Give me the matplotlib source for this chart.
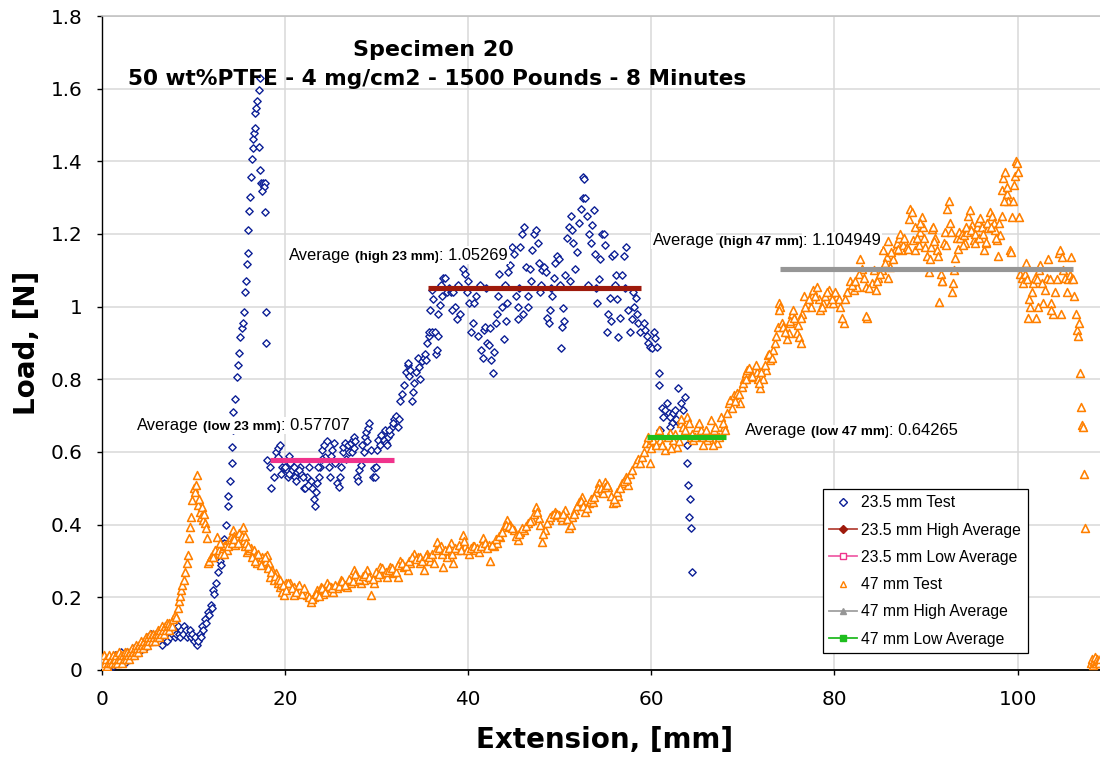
import numpy as np
import matplotlib
matplotlib.use("Agg")
import matplotlib.pyplot as plt
from matplotlib.lines import Line2D

# ---------------- 23.5 mm test: (extension mm, load N) ----------------
blue_toe = [
    (0.0, 0.01), (0.1, 0.02), (0.2, 0.00), (0.3, 0.01), (0.4, 0.02), (0.5, 0.01), (0.6, 0.03),
    (0.7, 0.00), (0.8, 0.02), (0.9, 0.01), (1.0, 0.03), (1.1, 0.02), (1.2, 0.01), (1.3, 0.03),
    (1.4, 0.02), (1.5, 0.04), (1.6, 0.03), (1.7, 0.02), (1.8, 0.04), (2.0, 0.03), (2.1, 0.05),
    (2.2, 0.03), (2.4, 0.04), (2.5, 0.02), (2.6, 0.04), (2.8, 0.05), (2.9, 0.03), (3.0, 0.04),
    (3.2, 0.05), (3.3, 0.04), (3.5, 0.06), (3.6, 0.04), (3.8, 0.05), (3.9, 0.06), (4.1, 0.05),
    (4.2, 0.07), (4.4, 0.06), (4.5, 0.07), (4.7, 0.06), (4.8, 0.08), (5.0, 0.07), (5.1, 0.09),
    (5.3, 0.08), (5.4, 0.10), (5.6, 0.09), (5.7, 0.08), (5.9, 0.10), (6.0, 0.09), (6.2, 0.10),
    (6.3, 0.08), (6.5, 0.09), (6.6, 0.07), (6.8, 0.09), (6.9, 0.10), (7.1, 0.08), (7.2, 0.10),
    (7.4, 0.11), (7.5, 0.09), (7.7, 0.10), (7.8, 0.11), (8.0, 0.09), (8.1, 0.10), (8.3, 0.12),
    (8.4, 0.10), (8.6, 0.09), (8.7, 0.11), (8.9, 0.10), (9.0, 0.12), (9.2, 0.11), (9.3, 0.09),
    (9.5, 0.10), (9.6, 0.11), (9.8, 0.09), (9.9, 0.10), (10.1, 0.08), (10.2, 0.09), (10.4, 0.07),
    (10.5, 0.08), (10.7, 0.10), (10.8, 0.09), (11.0, 0.12), (11.1, 0.11), (11.3, 0.14), (11.4, 0.13),
    (11.6, 0.16), (11.7, 0.15), (11.9, 0.18), (12.0, 0.17), (12.2, 0.22), (12.3, 0.21), (12.5, 0.24),
    (12.7, 0.27), (12.9, 0.30), (13.0, 0.29), (13.3, 0.36), (13.4, 0.35),
]
blue_spike = [
    (13.6, 0.40), (13.8, 0.45), (13.8, 0.48), (14.0, 0.52), (14.2, 0.57), (14.2, 0.615),
    (14.3, 0.66), (14.3, 0.71), (14.6, 0.745), (14.75, 0.807), (14.9, 0.84), (14.95, 0.873),
    (15.1, 0.917), (15.3, 0.94), (15.4, 0.954), (15.55, 0.986), (15.66, 1.041), (15.77, 1.07),
    (15.87, 1.117), (15.95, 1.147), (16.02, 1.211), (16.13, 1.262), (16.24, 1.301), (16.28, 1.356),
    (16.39, 1.407), (16.5, 1.436), (16.57, 1.462), (16.64, 1.477), (16.71, 1.492), (16.78, 1.532),
    (16.86, 1.546), (16.97, 1.567), (17.15, 1.596), (17.29, 1.628), (17.2, 1.44), (17.3, 1.376),
    (17.4, 1.341), (17.6, 1.341), (17.8, 1.341), (17.7, 1.33), (17.5, 1.317), (17.8, 1.26),
    (17.9, 0.986), (17.95, 0.899),
]
blue_low = [
    (18.1, 0.578), (18.5, 0.50), (18.4, 0.56), (18.8, 0.53), (19.0, 0.60), (19.2, 0.61),
    (19.5, 0.62), (19.3, 0.585), (19.7, 0.56), (19.9, 0.555), (20.2, 0.55), (20.4, 0.59),
    (20.6, 0.57), (20.8, 0.55), (21.1, 0.53), (21.3, 0.545), (21.6, 0.56), (21.8, 0.54),
    (22.1, 0.50), (22.2, 0.50), (22.4, 0.53), (22.6, 0.56), (22.8, 0.52), (23.0, 0.50),
    (23.2, 0.47), (23.3, 0.45), (23.4, 0.49), (23.5, 0.515), (23.7, 0.53), (23.8, 0.56),
    (24.1, 0.605), (24.3, 0.62), (24.4, 0.585), (24.8, 0.56), (24.9, 0.53), (25.2, 0.605),
    (25.4, 0.625), (25.7, 0.515), (25.9, 0.505), (26.1, 0.56), (26.3, 0.60), (26.4, 0.615),
    (26.6, 0.625), (26.9, 0.62), (27.0, 0.60), (27.2, 0.625), (27.4, 0.633), (27.5, 0.64),
    (27.7, 0.63), (27.9, 0.53), (28.1, 0.55), (28.3, 0.565), (28.4, 0.62), (28.7, 0.64),
    (28.9, 0.655), (29.1, 0.665), (29.4, 0.605), (29.6, 0.53), (29.7, 0.555), (29.9, 0.56),
    (30.1, 0.605), (30.2, 0.633), (30.5, 0.647), (30.8, 0.633), (31.0, 0.625), (31.3, 0.64),
    (31.5, 0.65), (31.7, 0.67), (31.9, 0.69), (32.1, 0.70), (32.3, 0.67), (32.5, 0.69),
    (19.6, 0.54), (20.0, 0.56), (20.3, 0.53), (20.5, 0.54), (21.0, 0.56), (21.2, 0.52),
    (21.5, 0.55), (22.0, 0.53), (22.5, 0.51), (23.6, 0.56), (24.0, 0.58), (24.6, 0.63),
    (25.0, 0.59), (25.5, 0.57), (26.0, 0.53), (26.7, 0.58), (27.3, 0.60), (27.6, 0.61),
    (28.0, 0.52), (28.6, 0.60), (29.0, 0.63), (29.2, 0.68), (29.8, 0.53), (30.4, 0.62),
    (30.9, 0.66), (31.1, 0.62), (31.4, 0.66), (31.8, 0.68),
]
blue_rise = [
    (32.6, 0.74), (32.8, 0.76), (33.0, 0.785), (33.2, 0.82), (33.4, 0.84), (33.5, 0.81),
    (33.4, 0.845), (33.7, 0.825), (33.9, 0.74), (34.0, 0.765), (34.1, 0.79), (34.3, 0.82),
    (34.5, 0.86), (34.6, 0.835), (34.8, 0.80), (35.0, 0.85), (35.2, 0.86), (35.3, 0.87),
    (35.4, 0.853), (35.5, 0.90), (35.7, 0.92), (35.7, 0.93), (35.9, 0.99), (36.1, 0.93),
    (36.1, 1.045), (36.2, 1.02), (36.4, 0.93), (36.5, 0.87), (36.6, 0.88), (36.7, 0.92),
]
blue_high = [
    (36.7, 0.98), (36.9, 1.005), (37.2, 1.03), (37.3, 1.08), (37.5, 1.078), (37.7, 1.04),
    (38.1, 1.04), (38.4, 1.04), (38.6, 1.00), (38.8, 0.965), (39.1, 0.98), (39.4, 1.105),
    (39.5, 1.13), (39.7, 1.09), (39.9, 1.04), (40.1, 1.01), (40.3, 0.93), (40.5, 0.955),
    (40.6, 1.01), (40.9, 1.03), (41.1, 0.92), (41.4, 0.88), (41.6, 0.86), (41.7, 0.935),
    (41.9, 0.945), (42.1, 0.90), (42.3, 0.895), (42.5, 0.853), (42.7, 0.817), (42.8, 0.875),
    (43.0, 0.955), (43.2, 0.98), (43.3, 1.03), (43.4, 1.09), (43.7, 1.00), (43.9, 0.91),
    (44.1, 0.96), (44.3, 1.01), (44.4, 1.095), (44.6, 1.115), (44.8, 1.165), (45.0, 1.145),
    (45.2, 1.03), (45.4, 0.965), (45.5, 1.00), (45.7, 1.165), (45.9, 1.20), (46.1, 1.22),
    (46.3, 1.11), (46.5, 1.00), (46.6, 1.03), (46.8, 1.105), (47.0, 1.155), (47.2, 1.20),
    (47.4, 1.21), (47.6, 1.175), (47.7, 1.12), (47.9, 1.04), (48.1, 1.10), (48.3, 1.11),
    (48.5, 1.095), (48.6, 0.97), (48.8, 0.955), (49.0, 0.99), (49.2, 1.03), (49.4, 1.08),
    (49.5, 1.12), (49.7, 1.14), (49.9, 1.13), (50.1, 0.885), (50.3, 0.945), (50.4, 0.995),
    (50.6, 1.087), (50.8, 1.19), (51.0, 1.22), (51.2, 1.25), (51.4, 1.21), (51.5, 1.175),
    (51.7, 1.105), (51.9, 1.15), (52.1, 1.23), (52.3, 1.27), (52.5, 1.30), (52.6, 1.357),
    (52.7, 1.35), (52.8, 1.30), (53.0, 1.25), (53.2, 1.20), (53.4, 1.175), (53.5, 1.225),
    (53.7, 1.265), (53.9, 1.145), (54.1, 1.01), (54.3, 1.075), (54.4, 1.13), (54.6, 1.20),
    (54.8, 1.20), (55.0, 1.17), (55.2, 0.93), (55.3, 0.98), (55.5, 1.025), (55.7, 1.14),
    (55.9, 1.145), (56.1, 1.087), (56.3, 1.02), (56.4, 0.917), (56.6, 0.97), (56.8, 1.087),
    (57.0, 1.14), (57.3, 1.165), (57.5, 0.99), (57.7, 0.93), (57.9, 0.965), (58.1, 1.00),
    (58.3, 1.025), (58.5, 0.98), (58.6, 0.955), (58.8, 0.93), (59.2, 0.955), (59.3, 0.935),
    (59.5, 0.92), (59.7, 0.90), (59.9, 0.89), (60.1, 0.885), (60.3, 0.93), (60.4, 0.915),
    (60.6, 0.89), (37.0, 1.06), (37.9, 1.05), (38.9, 1.06), (40.0, 1.07), (41.3, 1.06),
    (42.0, 1.05), (44.0, 1.06), (45.6, 1.05), (46.9, 1.07), (48.0, 1.06), (49.1, 1.05),
    (50.0, 1.06), (51.1, 1.07), (53.1, 1.06), (54.0, 1.05), (56.0, 1.06), (57.1, 1.05),
    (58.0, 1.04), (38.3, 0.99), (42.4, 0.94), (46.0, 0.98), (50.5, 0.96), (55.6, 0.96),
]
blue_tail = [
    (60.8, 0.817), (60.9, 0.785), (61.2, 0.72), (61.3, 0.697), (61.5, 0.715), (61.7, 0.735),
    (61.9, 0.707), (62.1, 0.697), (62.3, 0.68), (62.4, 0.707), (62.6, 0.715), (62.9, 0.775),
    (63.2, 0.735), (63.5, 0.715), (63.7, 0.75), (63.9, 0.62), (61.0, 0.66), (62.0, 0.67),
    (63.0, 0.68), (62.7, 0.69), (63.9, 0.57), (64.0, 0.51), (64.2, 0.47), (64.1, 0.42),
    (64.3, 0.39), (64.4, 0.27),
]

# ---------------- 47 mm test: (extension mm, load N) ----------------
orange_toe = [
    (0.0, 0.02), (0.1, 0.03), (0.2, 0.01), (0.3, 0.04), (0.4, 0.02), (0.5, 0.03), (0.6, 0.01),
    (0.7, 0.02), (0.8, 0.04), (0.9, 0.02), (1.0, 0.03), (1.1, 0.02), (1.2, 0.04), (1.3, 0.03),
    (1.4, 0.02), (1.5, 0.03), (1.6, 0.04), (1.7, 0.02), (1.8, 0.03), (1.9, 0.05), (2.0, 0.03),
    (2.1, 0.04), (2.2, 0.02), (2.3, 0.04), (2.4, 0.03), (2.5, 0.05), (2.6, 0.04), (2.7, 0.03),
    (2.8, 0.05), (2.9, 0.04), (3.0, 0.03), (3.1, 0.05), (3.2, 0.04), (3.3, 0.06), (3.4, 0.05),
    (3.5, 0.04), (3.6, 0.06), (3.7, 0.05), (3.8, 0.07), (3.9, 0.06), (4.0, 0.05), (4.1, 0.07),
    (4.2, 0.06), (4.3, 0.08), (4.4, 0.07), (4.5, 0.06), (4.6, 0.08), (4.7, 0.07), (4.8, 0.09),
    (4.9, 0.08), (5.0, 0.07), (5.1, 0.09), (5.2, 0.08), (5.3, 0.10), (5.4, 0.09), (5.5, 0.08),
    (5.6, 0.10), (5.7, 0.09), (5.8, 0.08), (5.9, 0.10), (6.0, 0.09), (6.1, 0.11), (6.2, 0.10),
    (6.3, 0.09), (6.4, 0.11), (6.5, 0.10), (6.6, 0.12), (6.7, 0.11), (6.8, 0.10), (6.9, 0.12),
    (7.0, 0.11), (7.1, 0.13), (7.2, 0.12), (7.3, 0.11), (7.4, 0.13), (7.5, 0.12),
]
orange_peak = [
    (7.7, 0.12), (7.8, 0.14), (8.0, 0.15), (8.1, 0.146), (8.3, 0.17), (8.4, 0.19), (8.6, 0.205),
    (8.7, 0.22), (8.8, 0.234), (8.95, 0.248), (9.1, 0.27), (9.3, 0.295), (9.4, 0.317),
    (9.5, 0.363), (9.6, 0.394), (9.8, 0.42), (9.9, 0.468), (10.1, 0.50), (10.2, 0.49),
    (10.3, 0.51), (10.4, 0.537), (10.5, 0.454), (10.6, 0.47), (10.7, 0.435), (10.8, 0.42),
    (11.0, 0.449), (11.1, 0.413), (11.2, 0.43), (11.3, 0.404), (11.4, 0.39), (11.5, 0.363),
    (11.6, 0.295),
]
orange_hump = [
    (11.7, 0.30), (11.9, 0.31), (12.1, 0.32), (12.2, 0.31), (12.4, 0.33), (12.6, 0.366),
    (12.8, 0.33), (13.0, 0.32), (13.2, 0.335), (13.3, 0.34), (13.5, 0.345), (13.7, 0.33),
    (13.9, 0.358), (14.1, 0.366), (14.3, 0.385), (14.4, 0.37), (14.6, 0.345), (14.8, 0.366),
    (15.0, 0.377), (15.2, 0.363), (15.4, 0.394), (15.5, 0.358), (15.7, 0.34), (15.9, 0.325),
    (16.1, 0.33), (16.3, 0.335), (16.5, 0.32), (16.6, 0.33), (16.8, 0.317), (17.0, 0.295),
    (17.2, 0.308), (17.3, 0.30), (17.5, 0.31), (17.7, 0.295), (17.9, 0.30), (18.1, 0.317),
    (18.3, 0.295), (18.4, 0.256), (18.6, 0.275), (18.8, 0.248), (19.0, 0.267), (19.2, 0.24),
    (19.5, 0.228), (19.7, 0.215), (19.9, 0.206), (20.1, 0.24), (20.3, 0.228), (20.6, 0.24),
    (21.0, 0.206), (21.4, 0.228), (12.9, 0.35), (13.4, 0.32), (13.8, 0.34), (14.2, 0.35),
    (14.5, 0.36), (14.9, 0.35), (15.3, 0.37), (15.6, 0.37), (15.8, 0.35), (16.0, 0.34),
    (16.4, 0.31), (16.7, 0.30), (17.1, 0.32), (17.4, 0.29), (17.8, 0.31), (18.2, 0.28),
    (18.5, 0.27), (18.9, 0.26), (19.3, 0.25), (19.6, 0.24),
]
orange_trough = [
    (19.5, 0.248), (20.3, 0.24), (21.0, 0.228), (21.7, 0.22), (22.4, 0.206), (22.8, 0.187),
    (23.2, 0.20), (23.5, 0.22), (23.9, 0.228), (24.2, 0.21), (24.6, 0.24), (25.0, 0.228),
    (25.3, 0.215), (25.7, 0.225), (26.1, 0.248), (26.4, 0.234), (26.8, 0.228), (27.2, 0.24),
    (27.5, 0.275), (27.9, 0.256), (28.3, 0.24), (28.6, 0.248), (29.0, 0.275), (29.4, 0.206),
    (29.7, 0.24), (30.1, 0.256), (30.4, 0.284), (30.8, 0.267), (31.2, 0.256), (31.5, 0.284),
    (31.9, 0.267), (32.3, 0.256), (32.6, 0.30), (33.0, 0.284), (33.4, 0.275), (33.7, 0.295),
    (34.1, 0.32), (34.5, 0.31), (34.8, 0.295), (35.2, 0.275), (35.5, 0.32), (35.9, 0.30),
    (36.3, 0.295), (36.6, 0.353), (37.0, 0.34), (37.3, 0.284), (37.7, 0.31), (38.1, 0.35),
    (38.4, 0.295), (38.8, 0.33), (39.4, 0.372), (39.7, 0.34), (40.1, 0.32), (40.5, 0.34),
    (40.8, 0.33), (41.2, 0.325), (41.6, 0.363), (41.9, 0.34), (42.3, 0.345), (42.4, 0.30),
    (42.8, 0.34), (43.2, 0.35), (43.5, 0.366), (43.9, 0.394), (44.3, 0.413), (44.6, 0.40),
    (45.0, 0.385), (45.4, 0.358), (45.7, 0.38), (46.1, 0.385), (46.6, 0.404), (47.0, 0.413),
    (47.4, 0.449), (47.7, 0.418), (48.1, 0.353), (48.4, 0.385), (48.8, 0.413), (49.2, 0.427),
    (49.5, 0.435), (49.9, 0.427), (50.3, 0.413), (50.6, 0.44), (51.0, 0.39), (51.4, 0.42),
    (51.7, 0.44), (52.1, 0.462), (52.4, 0.476), (52.8, 0.435), (53.2, 0.46), (53.6, 0.462),
    (54.0, 0.49), (54.3, 0.515), (54.7, 0.487), (55.0, 0.517), (55.3, 0.504), (55.8, 0.46),
    (56.1, 0.462), (56.4, 0.48), (56.8, 0.515), (57.2, 0.53), (57.5, 0.51), (57.7, 0.54),
    (19.8, 0.235), (20.1, 0.22), (20.8, 0.225), (21.2, 0.215), (21.5, 0.235), (21.9, 0.21),
    (22.1, 0.225), (22.6, 0.20), (23.0, 0.195), (23.4, 0.21), (23.7, 0.205), (24.1, 0.225),
    (24.4, 0.215), (24.8, 0.23), (25.2, 0.225), (25.5, 0.235), (25.9, 0.23), (26.2, 0.245),
    (26.6, 0.235), (27.0, 0.25), (27.4, 0.245), (27.7, 0.265), (28.1, 0.25), (28.5, 0.26),
    (28.8, 0.265), (29.2, 0.255), (29.6, 0.25), (29.9, 0.27), (30.3, 0.265), (30.6, 0.28),
    (31.0, 0.27), (31.4, 0.275), (31.7, 0.28), (32.1, 0.27), (32.4, 0.29), (32.8, 0.295),
    (33.2, 0.285), (33.6, 0.30), (33.9, 0.31), (34.3, 0.305), (34.7, 0.31), (35.0, 0.30),
    (35.4, 0.315), (35.7, 0.31), (36.1, 0.32), (36.5, 0.33), (36.8, 0.335), (37.2, 0.32),
    (37.5, 0.33), (37.9, 0.335), (38.3, 0.32), (38.6, 0.335), (39.0, 0.345), (39.2, 0.33),
    (39.6, 0.355), (39.9, 0.33), (40.3, 0.335), (40.7, 0.34), (41.0, 0.335), (41.4, 0.34),
    (41.8, 0.35), (42.1, 0.335), (42.6, 0.345), (43.0, 0.36), (43.4, 0.37), (43.7, 0.38),
    (44.1, 0.40), (44.5, 0.395), (44.8, 0.39), (45.2, 0.37), (45.6, 0.375), (45.9, 0.39),
    (46.3, 0.395), (46.8, 0.41), (47.2, 0.43), (47.5, 0.435), (47.9, 0.40), (48.2, 0.375),
    (48.6, 0.405), (49.0, 0.42), (49.4, 0.43), (49.7, 0.43), (50.1, 0.42), (50.4, 0.43),
    (50.8, 0.415), (51.2, 0.40), (51.6, 0.43), (51.9, 0.45), (52.3, 0.465), (52.6, 0.45),
    (53.0, 0.445), (53.4, 0.47), (53.8, 0.475), (54.2, 0.50), (54.5, 0.50), (54.9, 0.505),
    (55.2, 0.51), (55.6, 0.48), (55.9, 0.47), (56.3, 0.49), (56.6, 0.50), (57.0, 0.52),
    (57.4, 0.525), (57.9, 0.55), (58.3, 0.57), (58.6, 0.58),
]
orange_plateau = [
    (58.8, 0.57), (59.0, 0.586), (59.4, 0.625), (59.9, 0.625), (60.2, 0.633), (59.9, 0.57),
    (61.0, 0.633), (61.5, 0.605), (62.1, 0.652), (62.4, 0.633), (62.8, 0.614), (63.2, 0.68),
    (63.5, 0.67), (63.9, 0.697), (64.3, 0.64), (64.6, 0.633), (65.0, 0.67), (65.4, 0.66),
    (65.7, 0.64), (66.1, 0.633), (66.5, 0.688), (66.8, 0.66), (67.2, 0.625), (67.6, 0.697),
    (67.9, 0.67), (68.3, 0.707), (59.2, 0.60), (59.6, 0.64), (60.0, 0.61), (60.5, 0.62),
    (60.8, 0.66), (61.2, 0.62), (61.8, 0.64), (62.2, 0.61), (62.6, 0.65), (63.0, 0.63),
    (63.3, 0.69), (63.7, 0.66), (64.1, 0.68), (64.5, 0.65), (64.8, 0.64), (65.2, 0.68),
    (65.6, 0.62), (66.0, 0.66), (66.3, 0.64), (66.7, 0.62), (67.0, 0.67), (67.4, 0.64),
    (67.8, 0.68), (68.1, 0.66),
]
orange_climb = [
    (68.5, 0.735), (68.6, 0.743), (69.0, 0.757), (69.4, 0.762), (69.7, 0.735), (69.9, 0.78),
    (70.1, 0.80), (70.3, 0.817), (70.5, 0.826), (70.8, 0.807), (71.2, 0.826), (71.6, 0.82),
    (71.7, 0.80), (71.9, 0.775), (72.2, 0.80), (72.5, 0.826), (72.7, 0.867), (73.0, 0.853),
    (73.3, 0.88), (73.5, 0.90), (73.8, 0.945), (73.9, 1.01), (74.1, 1.00), (74.3, 0.955),
    (74.4, 0.945), (74.8, 0.91), (75.0, 0.928), (75.2, 0.955), (75.4, 0.98), (75.5, 0.99),
    (75.7, 0.963), (75.9, 0.928), (76.1, 0.917), (76.3, 0.90), (76.5, 0.98), (76.7, 1.03),
    (77.0, 1.01), (77.4, 1.00), (77.6, 1.03), (77.7, 1.045), (78.1, 1.055), (78.3, 1.02),
    (78.4, 0.99), (78.8, 1.01), (79.0, 1.03), (79.4, 1.045), (79.5, 1.01), (79.9, 1.01),
    (80.3, 1.03), (80.6, 1.00), (81.0, 0.955), (81.4, 1.04), (81.7, 1.07), (82.1, 1.045),
    (82.5, 1.055), (82.8, 1.13), (83.0, 1.105), (83.4, 1.055), (83.6, 0.97), (83.5, 0.975),
    (84.1, 1.065), (84.5, 1.045), (84.8, 1.08), (85.2, 1.10),
    (68.8, 0.72), (69.2, 0.74), (69.6, 0.76), (70.0, 0.79), (70.4, 0.80), (70.7, 0.83),
    (71.0, 0.81), (71.4, 0.84), (71.8, 0.79), (72.0, 0.82), (72.4, 0.84), (72.9, 0.87),
    (73.2, 0.86), (73.6, 0.92), (74.0, 0.99), (74.6, 0.93), (75.1, 0.96), (75.6, 0.97),
    (76.0, 0.95), (76.4, 0.97), (76.8, 1.00), (77.2, 1.02), (77.9, 1.03), (78.6, 1.00),
    (79.2, 1.04), (79.7, 1.02), (80.1, 1.04), (80.5, 1.02), (80.8, 0.97), (81.2, 1.02),
    (81.9, 1.06), (82.3, 1.07), (82.7, 1.09), (83.2, 1.08), (83.8, 1.05), (84.3, 1.10),
    (84.6, 1.07), (85.0, 1.09),
]
orange_top = [
    (85.3, 1.156), (85.7, 1.137), (85.9, 1.08), (85.9, 1.18), (86.1, 1.11), (86.4, 1.13),
    (86.6, 1.156), (86.8, 1.175), (87.0, 1.19), (87.2, 1.20), (87.4, 1.156), (87.5, 1.17),
    (87.9, 1.165), (88.1, 1.24), (88.3, 1.27), (88.5, 1.26), (88.6, 1.184), (88.8, 1.156),
    (89.2, 1.17), (89.4, 1.205), (89.6, 1.247), (89.7, 1.22), (89.9, 1.165), (90.1, 1.14),
    (90.3, 1.095), (90.5, 1.165), (90.7, 1.215), (90.8, 1.22), (91.0, 1.19), (91.2, 1.156),
    (91.4, 1.013), (91.6, 1.09), (91.8, 1.07), (92.0, 1.175), (92.1, 1.205), (92.3, 1.27),
    (92.5, 1.29), (92.7, 1.205), (92.8, 1.04), (93.0, 1.065), (93.2, 1.133), (93.4, 1.19),
    (93.6, 1.205), (93.7, 1.19), (93.9, 1.20), (94.1, 1.197), (94.3, 1.175), (94.5, 1.205),
    (94.6, 1.25), (94.8, 1.265), (95.0, 1.225), (95.2, 1.184), (95.4, 1.175), (95.6, 1.22),
    (95.7, 1.233), (95.9, 1.244), (96.1, 1.22), (96.3, 1.156), (96.5, 1.175), (96.6, 1.178),
    (96.8, 1.216), (97.0, 1.26), (97.2, 1.25), (97.4, 1.23), (97.5, 1.21), (97.7, 1.184),
    (97.9, 1.14), (98.1, 1.197), (98.3, 1.25), (98.3, 1.32), (98.4, 1.353), (98.6, 1.37),
    (98.8, 1.31), (99.0, 1.29), (99.2, 1.156), (99.4, 1.247), (99.5, 1.29), (99.6, 1.335),
    (99.7, 1.36), (99.8, 1.40), (99.9, 1.395), (100.1, 1.37), (100.2, 1.247), (100.3, 1.09),
    (100.5, 1.08), (100.6, 1.065), (100.8, 1.09), (101.0, 1.075), (101.1, 0.97), (101.4, 1.00),
    (101.6, 1.04), (101.7, 1.065), (101.9, 1.08), (102.1, 1.075), (102.3, 1.10), (102.5, 1.115),
    (102.7, 1.065), (102.8, 1.01), (103.0, 1.045), (103.2, 1.08), (103.3, 1.13), (103.5, 1.075),
    (103.7, 1.01), (103.9, 0.98), (104.1, 1.04), (104.3, 1.075), (104.5, 1.147), (104.6, 1.156),
    (104.8, 1.137), (105.0, 1.10), (105.2, 1.08), (105.4, 1.04), (105.5, 1.075), (105.7, 1.087),
    (105.8, 1.137), (105.9, 1.08), (106.0, 1.075), (106.2, 1.03), (106.4, 0.98),
    (85.5, 1.12), (86.2, 1.15), (86.9, 1.16), (87.6, 1.19), (88.0, 1.16), (88.8, 1.22),
    (89.0, 1.19), (89.3, 1.23), (89.8, 1.19), (90.4, 1.13), (90.9, 1.18), (91.3, 1.14),
    (91.7, 1.07), (92.2, 1.17), (92.6, 1.23), (93.1, 1.10), (93.5, 1.16), (94.0, 1.17),
    (94.4, 1.22), (94.9, 1.21), (95.3, 1.20), (95.8, 1.19), (96.2, 1.20), (96.7, 1.23),
    (97.1, 1.22), (97.6, 1.19), (98.0, 1.23), (98.5, 1.29), (98.9, 1.33), (99.3, 1.15),
    (102.0, 0.97), (103.6, 0.99), (104.7, 0.98), (102.2, 1.00), (101.3, 1.02), (100.9, 1.12),
]
orange_drop = [
    (106.5, 0.935), (106.6, 0.92), (106.7, 0.955), (106.8, 0.817), (106.9, 0.725),
    (107.0, 0.675), (107.1, 0.67), (107.2, 0.54), (107.4, 0.39),
    (108.0, 0.02), (108.1, 0.03), (108.2, 0.015), (108.3, 0.025), (108.4, 0.02),
    (108.5, 0.035), (108.6, 0.02), (108.7, 0.03), (108.8, 0.025), (108.9, 0.02), (109.0, 0.03),
]

# ---------------- plateau averages ----------------
avg_high_235 = 1.05269
avg_low_235 = 0.57707
avg_high_47 = 1.104949
avg_low_47 = 0.64265
span_high_235 = (35.65, 58.9)
span_low_235 = (18.4, 31.9)
span_high_47 = (74.1, 106.1)
span_low_47 = (59.5, 68.2)

x_ticks = [0, 20, 40, 60, 80, 100]
y_ticks = [0, 0.2, 0.4, 0.6, 0.8, 1.0, 1.2, 1.4, 1.6, 1.8]
y_tick_labels = ["0", "0.2", "0.4", "0.6", "0.8", "1", "1.2", "1.4", "1.6", "1.8"]

title_line1 = "Specimen 20"
title_line2 = "50 wt%PTFE - 4 mg/cm2 - 1500 Pounds - 8 Minutes"

BLUE = "#0C1F96"
ORANGE = "#FF8000"
DARKRED = "#9E1A0C"
PINK = "#F0338C"
GRAY = "#969696"
GREEN = "#1EBE1E"


def stack(*segments):
    arr = np.array([p for seg in segments for p in seg], dtype=float)
    return arr[:, 0], arr[:, 1]


bx, by = stack(blue_toe, blue_spike, blue_low, blue_rise, blue_high, blue_tail)
ox, oy = stack(orange_toe, orange_peak, orange_hump, orange_trough,
               orange_plateau, orange_climb, orange_top, orange_drop)

fig = plt.figure(figsize=(11, 7.63), dpi=100)
ax = fig.add_axes([0.09245, 0.12189, 0.90755, 0.85714])

ax.scatter(bx, by, marker="D", s=14, facecolors="white", edgecolors=BLUE,
           linewidths=1.0, zorder=3)
ax.scatter(ox, oy, marker="^", s=32, facecolors="white", edgecolors=ORANGE,
           linewidths=1.15, zorder=4)

for (x0, x1), val, col in [(span_high_235, avg_high_235, DARKRED),
                           (span_low_235, avg_low_235, PINK),
                           (span_high_47, avg_high_47, GRAY),
                           (span_low_47, avg_low_47, GREEN)]:
    ax.plot([x0, x1], [val, val], color=col, lw=3.7, solid_capstyle="butt", zorder=6)

ax.set_xlim(0, 109)
ax.set_ylim(0, 1.8)
ax.set_xticks(x_ticks)
ax.set_yticks(y_ticks)
ax.set_yticklabels(y_tick_labels)
ax.grid(True, color="#D9D9D9", lw=1.1)
ax.set_axisbelow(True)
ax.tick_params(direction="out", length=3.6, width=1, labelsize=14.4, colors="black")
ax.tick_params(axis="x", pad=11)
ax.tick_params(axis="y", pad=10)
ax.spines["right"].set_visible(False)
ax.spines["top"].set_color("#BFBFBF")
ax.spines["top"].set_linewidth(1.1)
ax.spines["left"].set_linewidth(1.0)
ax.spines["bottom"].set_linewidth(1.3)

ax.set_xlabel("Extension, [mm]", fontsize=20, fontweight="bold")
ax.set_ylabel("Load, [N]", fontsize=20, fontweight="bold")
ax.xaxis.set_label_coords(0.504, -0.0856)
ax.yaxis.set_label_coords(-0.061, 0.5)

fig.text(0.3936, 0.927, title_line1, ha="center", va="baseline",
         fontsize=16, fontweight="bold")
fig.text(0.3977, 0.8886, title_line2, ha="center", va="baseline",
         fontsize=15.6, fontweight="bold")


def average_label(x, y, tag, value):
    box = dict(fc="white", ec="none", pad=1.0)
    first = ax.text(x, y, "Average", fontsize=11.9, family="Liberation Sans",
                    va="baseline", ha="left", bbox=box, zorder=7)
    mid = ax.annotate(tag, xy=(1, 0), xycoords=first, xytext=(3.3, 0),
                      textcoords="offset points", fontsize=9.7, fontweight="bold",
                      family="Liberation Sans", va="bottom", ha="left", bbox=box, zorder=7)
    ax.annotate(": " + value, xy=(1, 0), xycoords=mid, xytext=(0, 0),
                textcoords="offset points", fontsize=11.9, family="Liberation Sans",
                va="bottom", ha="left", bbox=box, zorder=7)


average_label(3.86, 0.661, "(low 23 mm)", f"{avg_low_235}")
average_label(20.4, 1.129, "(high 23 mm)", f"{avg_high_235}")
average_label(60.15, 1.170, "(high 47 mm)", f"{avg_high_47}")
average_label(70.2, 0.647, "(low 47 mm)", f"{avg_low_47}")

handles = [
    Line2D([], [], ls="none", marker="D", ms=4, mfc="white", mec=BLUE, mew=1),
    Line2D([], [], color="#B5453A", lw=1.3, marker="D", ms=4, mfc=DARKRED, mec=DARKRED),
    Line2D([], [], color="#F060A8", lw=1.3, marker="s", ms=4.5, mfc="white", mec=PINK, mew=1),
    Line2D([], [], ls="none", marker="^", ms=5, mfc="white", mec=ORANGE, mew=1),
    Line2D([], [], color="#A0A0A0", lw=1.3, marker="^", ms=5, mfc=GRAY, mec=GRAY),
    Line2D([], [], color="#22BB22", lw=1.3, marker="s", ms=4.5, mfc=GREEN, mec=GREEN),
]
labels = ["23.5 mm Test", "23.5 mm High Average", "23.5 mm Low Average",
          "47 mm Test", "47 mm High Average", "47 mm Low Average"]
leg = ax.legend(handles, labels, loc="lower left", bbox_to_anchor=(0.7225, 0.026),
                borderaxespad=0, prop={"family": "Liberation Sans", "size": 11.3},
                frameon=True, fancybox=False, framealpha=1, edgecolor="black",
                borderpad=0.41, handlelength=1.75, handletextpad=0.28, labelspacing=0.78)
leg.get_frame().set_linewidth(0.9)
leg.set_zorder(8)

fig.savefig("out.png", dpi=100)
